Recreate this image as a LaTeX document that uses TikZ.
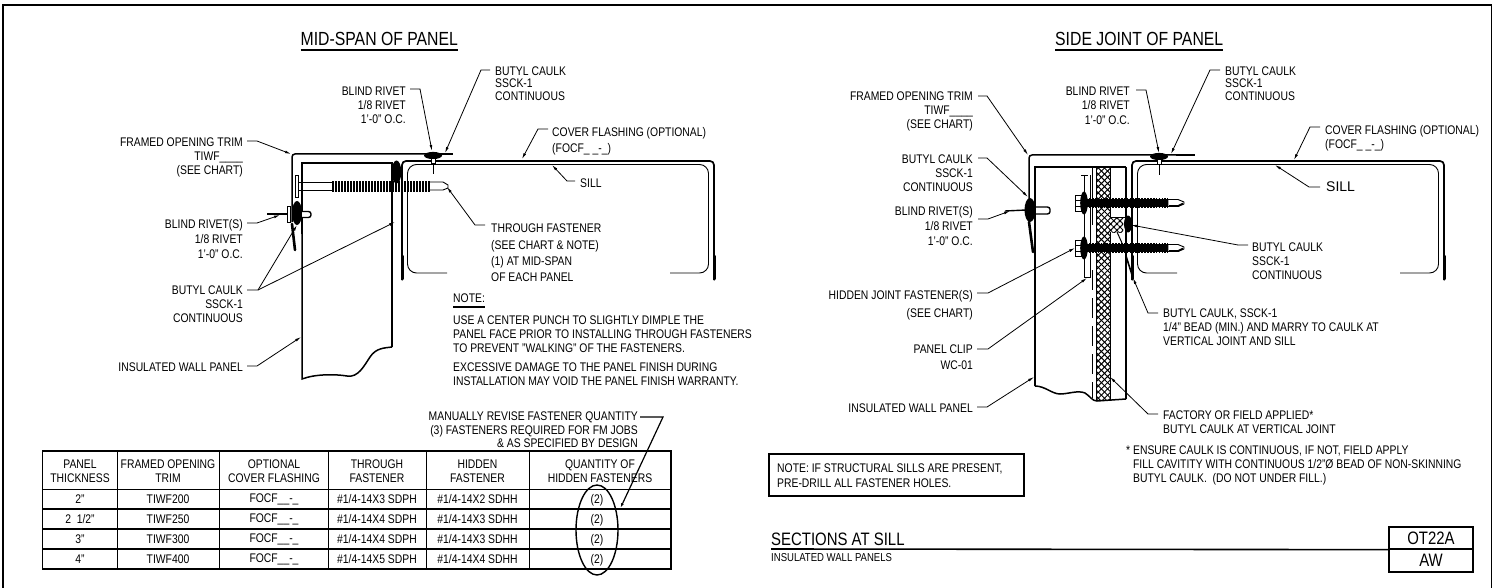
\documentclass[tikz,border=0pt]{standalone}
\usepackage{fontspec}
\setmainfont[FakeStretch=0.83]{Liberation Sans}
\newfontfamily\plainsans{Liberation Sans}
\usetikzlibrary{arrows.meta,patterns.meta,shapes.geometric}
\tikzset{
  font={\fontsize{12.5pt}{14pt}\selectfont},
  lblr/.style={inner sep=0pt,anchor=north east,align=right},
  lbll/.style={inner sep=0pt,anchor=north west,align=left},
  lblc/.style={inner sep=0pt,anchor=center,align=center},
  title/.style={inner sep=0pt,anchor=west,font={\fontsize{19pt}{20pt}\selectfont}},
  leader/.style={line width=0.8pt,-{Latex[length=6pt,width=2.8pt]}},
  heavy/.style={line width=1.5pt},
  cellrule/.style={line width=1.5pt},
  foamA/.style={pattern={Lines[angle=45,distance=4.4pt,line width=1pt]}},
  foamB/.style={pattern={Lines[angle=-45,distance=4.4pt,line width=1pt]}},
  sillform/.pic={
    \draw [line width=1.7pt,rounded corners=4pt] (0,280) -- (0,161) -- (312,161) -- (312,280);
    \draw [line width=0.9pt,rounded corners=9pt] (45,273) -- (5.5,273) -- (5.5,164.5) -- (306.5,164.5) -- (306.5,273) -- (268,273);
    \draw [line width=3pt,line cap=round] (0,256) -- (0,279);
    \draw [line width=3pt,line cap=round] (312,256) -- (312,279);
  },
  boltform/.pic={
    \draw [fill=white,line width=0.9pt] (0,-8) rectangle (6,8);
    \draw (0,-3) -- (6,-3) (0,3) -- (6,3);
    \fill [black] (9,0) ellipse (3.8 and 11.5);
    \fill [black] (10,-3.8) rectangle (93,3.8);
    \draw [line width=10.5pt,dash pattern=on 1.7pt off 1.2pt] (14,0) -- (93,0);
    \draw [fill=white,line width=0.9pt] (93,-3.5) -- (103,-3.5) -- (109,-1) -- (109,1) -- (103,3.5) -- (93,3.5) -- cycle;
    \draw [line width=1.6pt] (94,3) -- (103,3) -- (108,0.5);
  },
  rivetform/.pic={
    \fill [black] (0,0) ellipse (9 and 3.6);
    \draw [fill=white,line width=0.9pt] (-2,3) rectangle (2,8);
    \draw (0,8) -- (0,19);
  }
}
\begin{document}
\begin{tikzpicture}[x=1pt,y=-1pt]
\useasboundingbox (0,0) rectangle (1501,588);
% sheet edge
\draw [line width=1.4pt] (3,588) -- (3,5) -- (1491.5,5) -- (1491.5,588);
% titles
\node (titleMid) [title] at (300.5,39) {MID-SPAN OF PANEL};
\draw [line width=1.3pt] (titleMid.south west |- 0,50) -- (titleMid.south east |- 0,50);
\node (titleSide) [title] at (1055,39) {SIDE JOINT OF PANEL};
\draw [line width=1.3pt] (titleSide.south west |- 0,50) -- (titleSide.south east |- 0,50);

% mid-span section
\pic at (402,0) {sillform};
\draw [heavy,rounded corners=3pt] (292,222) -- (292,154) -- (443,154);
\draw [line width=2.4pt] (440,154) -- (453,154);
\draw [line width=2.6pt,line cap=round] (292,224) -- (295,250);
\draw [heavy] (302,234) -- (302,163) -- (392,163) -- (392,347);
\draw [heavy] (302,234) -- (302,379) .. controls (315,374) and (335,374) .. (347,376) .. controls (358,378) and (364,366) .. (370,357) .. controls (376,348) and (384,348) .. (392,347);
\pic at (433,155.5) {rivetform};
\fill [black] (396.5,172) ellipse (4.8 and 11.5);
\draw [line width=0.9pt,fill=white] (295,175) rectangle (298,197);
\draw [line width=0.9pt] (298,182) -- (332,182) (298,190) -- (332,190);
\draw [line width=11pt,dash pattern=on 1.9pt off 1.1pt] (332,186.5) -- (430,186.5);
\draw [line width=0.9pt] (430,182) -- (443,182) -- (448,185) -- (448,188) -- (443,190) -- (430,190);
\draw [line width=1.4pt] (267,214) -- (288,214);
\draw [line width=0.9pt,fill=white] (287,206) rectangle (290,222);
\fill [black] (297,213) ellipse (5 and 12);
\draw [line width=1.4pt,fill=white,rounded corners=2.5pt] (302,211.5) -- (311,211.5) -- (311,217.5) -- (302,217.5);

% mid-span labels
\node (midTrim) [lblr] at (243,138) {FRAMED OPENING TRIM\\TIWF\_\_\_\_\\(SEE CHART)};
\node (midRivet) [lblr] at (406,87) {BLIND RIVET\\1/8 RIVET\\1'-0" O.C.};
\node (midCaulkTop) [lbll] at (495,66.5) {BUTYL CAULK\\[-1.5pt]SSCK-1\\[-1.5pt]CONTINUOUS};
\node (midFlash) [lbll] at (552,127) {COVER FLASHING (OPTIONAL)\\[2pt](FOCF\_ \_-\_)};
\node (midSill) [lbll] at (580,179) {SILL};
\node (midRivets) [lblr] at (243,219) {BLIND RIVET(S)\\[1pt]1/8 RIVET\\[1pt]1'-0" O.C.};
\node (midCaulk) [lblr] at (243,286) {BUTYL CAULK\\[-0.5pt]SSCK-1\\CONTINUOUS};
\node (midPanel) [lblr] at (243,363) {INSULATED WALL PANEL};
\node (midThrough) [lbll] at (491,224) {THROUGH FASTENER\\[2.3pt](SEE CHART \& NOTE)\\[2.3pt](1) AT MID-SPAN\\[2.3pt]OF EACH PANEL};
\node (noteHead) [lbll] at (453,294) {NOTE:};
\draw [line width=1.1pt] (noteHead.west |- 0,307) -- (noteHead.east |- 0,307);
\node (noteBody) [lbll] at (453,316) {USE A CENTER PUNCH TO SLIGHTLY DIMPLE THE\\PANEL FACE PRIOR TO INSTALLING THROUGH FASTENERS\\TO PREVENT "WALKING" OF THE FASTENERS.};
\node (noteDamage) [lbll] at (453,363) {EXCESSIVE DAMAGE TO THE PANEL FINISH DURING\\INSTALLATION MAY VOID THE PANEL FINISH WARRANTY.};

% mid-span leaders
\coordinate (tipTrim) at (291,154);
\coordinate (tipRivet) at (432,151);
\coordinate (tipCaulkTop) at (445,153);
\coordinate (tipFlash) at (522,159);
\coordinate (tipSill) at (552,165);
\coordinate (tipRivets) at (280,215);
\coordinate (tipCaulkA) at (297,225);
\coordinate (tipCaulkB) at (395,222);
\coordinate (tipPanel) at (301,337);
\coordinate (tipThrough) at (447,187);
\draw [leader] ([shift={(4,3)}]midTrim.north east) -- ++(10,0) -- (tipTrim);
\draw [leader] ([shift={(4,2)}]midRivet.north east) -- ++(10,0) -- (tipRivet);
\draw [leader] ([shift={(-5,3.5)}]midCaulkTop.north west) -- ++(-9,0) -- (tipCaulkTop);
\draw [leader] ([shift={(-4,2)}]midFlash.north west) -- ++(-10,0) -- (tipFlash);
\draw [leader] ([shift={(-5,2)}]midSill.north west) -- ++(-8,0) -- (tipSill);
\draw [leader] ([shift={(4,4)}]midRivets.north east) -- ++(10,0) -- (tipRivets);
\draw [leader] ([shift={(4,4)}]midCaulk.north east) -- ++(11,0) -- (tipCaulkA);
\draw [leader] ([shift={(15,4)}]midCaulk.north east) -- (tipCaulkB);
\draw [leader] ([shift={(4,3)}]midPanel.north east) -- ++(10,0) -- (tipPanel);
\draw [leader] ([shift={(-6,1)}]midThrough.north west) -- ++(-10,0) -- (tipThrough);

% side joint section
\pic at (1132,0) {sillform};
\draw [heavy,rounded corners=3pt] (1029,220) -- (1029,155) -- (1178,155);
\draw [line width=2.4pt] (1176,155) -- (1195,155);
\draw [line width=2.6pt,line cap=round] (1029,222) -- (1033,252);
\draw [heavy] (1035,386) -- (1035,167) -- (1126,167);
\draw [line width=2pt] (1126,167) -- (1126,399);
\draw [heavy] (1035,386) .. controls (1045,386) and (1052,394) .. (1060,394) .. controls (1068,394) and (1078,390) .. (1085,393) .. controls (1090,396) and (1092,401) .. (1097,401) -- (1126,399);
\fill [foamA] (1096,167) rectangle (1110,400);
\fill [foamB] (1096,167) rectangle (1110,400);
\draw [line width=1pt] (1096,167) -- (1096,400) (1110,167) -- (1110,400);
\fill [white] (1109.5,218) rectangle (1125,232);
\fill [foamA] (1109.5,218) rectangle (1123,232);
\fill [foamB] (1109.5,218) rectangle (1123,232);
\draw [line width=0.9pt] (1110,217) -- (1125,217);
\draw [line width=1pt] (1117,232) -- (1122,243);
\fill [black] (1128,224) ellipse (4 and 8.5);
\draw [line width=1pt] (1092,167) -- (1092,225);
\draw [line width=1pt,dash pattern=on 20pt off 8pt] (1092,270) -- (1092,398);
\pic at (1159,156.5) {rivetform};
\draw [line width=0.9pt] (1081,175) -- (1088,175);
\draw [line width=0.9pt] (1084,175) -- (1084,277) -- (1090,277) -- (1090,175);
\pic at (1075,203) {boltform};
\pic at (1075,248) {boltform};
\draw [line width=1.6pt,line cap=round] (1126,256) -- (1133,278);
\draw [line width=1.4pt] (1005,211) -- (1026,210);
\fill [black] (1030,210) ellipse (5.5 and 12);
\draw [line width=1.4pt,fill=white,rounded corners=2.5pt] (1036,207) -- (1050,207) -- (1050,214) -- (1036,214);

% side joint labels
\node (sideTrim) [lblr] at (973,92) {FRAMED OPENING TRIM\\TIWF\_\_\_\_\\(SEE CHART)};
\node (sideRivet) [lblr] at (1130,87) {BLIND RIVET\\1/8 RIVET\\[1pt]1'-0" O.C.};
\node (sideCaulkTop) [lbll] at (1225,66.5) {BUTYL CAULK\\[-1.5pt]SSCK-1\\[-1.5pt]CONTINUOUS};
\node (sideFlash) [lbll] at (1325,125) {COVER FLASHING (OPTIONAL)\\(FOCF\_ \_-\_)};
\node (sideSill) [lbll,font={\plainsans\fontsize{14pt}{14pt}\selectfont}] at (1326,182) {SILL};
\node (sideCaulkHi) [lblr] at (973,155) {BUTYL CAULK\\SSCK-1\\CONTINUOUS};
\node (sideRivets) [lblr] at (973,206) {BLIND RIVET(S)\\[1pt]1/8 RIVET\\[1pt]1'-0" O.C.};
\node (sideCaulkIn) [lbll] at (1252,243) {BUTYL CAULK\\SSCK-1\\CONTINUOUS};
\node (sideHidden) [lblr] at (973,290) {HIDDEN JOINT FASTENER(S)\\[4pt](SEE CHART)};
\node (sideBead) [lbll] at (1163,309) {BUTYL CAULK, SSCK-1\\1/4" BEAD (MIN.) AND MARRY TO CAULK AT\\VERTICAL JOINT AND SILL};
\node (sideClip) [lblr] at (973,345) {PANEL CLIP\\[2pt]WC-01};
\node (sidePanel) [lblr] at (973,404) {INSULATED WALL PANEL};
\node (sideFactory) [lbll] at (1163,411) {FACTORY OR FIELD APPLIED*\\BUTYL CAULK AT VERTICAL JOINT};
\node (sideEnsure) [lbll] at (1126,446) {* ENSURE CAULK IS CONTINUOUS, IF NOT, FIELD APPLY\\\hphantom{* }FILL CAVITITY WITH CONTINUOUS 1/2"Ø BEAD OF NON-SKINNING\\\hphantom{* }BUTYL CAULK.\ \ (DO NOT UNDER FILL.)};

% side joint leaders
\coordinate (tipSTrim) at (1028,155);
\coordinate (tipSRivet) at (1159,153);
\coordinate (tipSCaulkTop) at (1171,154);
\coordinate (tipSFlash) at (1294,160);
\coordinate (tipSSill) at (1275,165);
\coordinate (tipSCaulkHi) at (1028,197);
\coordinate (tipSRivets) at (1010,211);
\coordinate (tipSCaulkIn) at (1131,225);
\coordinate (tipSHidden) at (1075,248);
\coordinate (tipSBead) at (1133,278);
\coordinate (tipSClip) at (1087,278);
\coordinate (tipSPanel) at (1034,377);
\coordinate (tipSFactory) at (1110,377);
\draw [leader] ([shift={(5,4)}]sideTrim.north east) -- ++(9,0) -- (tipSTrim);
\draw [leader] ([shift={(6,3)}]sideRivet.north east) -- ++(10,0) -- (tipSRivet);
\draw [leader] ([shift={(-5,3.5)}]sideCaulkTop.north west) -- ++(-10,0) -- (tipSCaulkTop);
\draw [leader] ([shift={(-5,2)}]sideFlash.north west) -- ++(-10,0) -- (tipSFlash);
\draw [leader] ([shift={(-6,5)}]sideSill.north west) -- ++(-11,0) -- (tipSSill);
\draw [leader] ([shift={(5,3)}]sideCaulkHi.north east) -- ++(9,0) -- (tipSCaulkHi);
\draw [leader] ([shift={(5,13)}]sideRivets.north east) -- ++(10,0) -- (tipSRivets);
\draw [leader] ([shift={(-4,2)}]sideCaulkIn.north west) -- ++(-10,0) -- (tipSCaulkIn);
\draw [leader] ([shift={(4,3)}]sideHidden.north east) -- ++(11,0) -- (tipSHidden);
\draw [leader] ([shift={(-5,4)}]sideBead.north west) -- ++(-10,0) -- (tipSBead);
\draw [leader] ([shift={(4,4)}]sideClip.north east) -- ++(11,0) -- (tipSClip);
\draw [leader] ([shift={(4,3)}]sidePanel.north east) -- ++(10,0) -- (tipSPanel);
\draw [leader] ([shift={(-5,3)}]sideFactory.north west) -- ++(-10,0) -- (tipSFactory);

% note box and title block
\node (noteBox) [draw,line width=1.5pt,minimum width=255pt,minimum height=42pt,inner sep=0pt,anchor=north west] at (768,453) {};
\node (noteText) [lbll] at (777,464) {NOTE: IF STRUCTURAL SILLS ARE PRESENT,\\[1pt]PRE-DRILL ALL FASTENER HOLES.};
\node (blockName) [inner sep=0pt,anchor=west,font={\fontsize{18pt}{18pt}\selectfont}] at (771,539) {SECTIONS AT SILL};
\node (blockSub) [inner sep=0pt,anchor=west,font={\fontsize{11.5pt}{12pt}\selectfont}] at (771,558) {INSULATED WALL PANELS};
\node (blockCode) [draw,line width=1.3pt,minimum width=84pt,minimum height=22pt,inner sep=0pt,font={\fontsize{18pt}{18pt}\selectfont}] at (1431,538) {OT22A};
\node (blockRev) [draw,line width=1.3pt,minimum width=84pt,minimum height=23pt,inner sep=0pt,font={\fontsize{18pt}{18pt}\selectfont}] at (1431,560.5) {AW};
\draw [line width=1.6pt] (771,549) -- (blockCode.south west);

% fastener chart
\draw [cellrule] (42.5,451) rectangle (671,569);
\draw [cellrule] (42.5,489.5) -- (537,489.5);
\draw [line width=0.9pt] (537,489.5) -- (671,489.5);
\draw [cellrule] (42.5,509) -- (671,509);
\draw [cellrule] (42.5,529) -- (671,529);
\draw [cellrule] (42.5,549) -- (671,549);
\foreach \xc in {117,219.5,328,426,529} {
  \draw [line width=0.9pt] (\xc,451) -- (\xc,569);
}
\node (h1) [lblc] at (80,471) {PANEL\\THICKNESS};
\node (h2) [lblc] at (168,471) {FRAMED OPENING\\TRIM};
\node (h3) [lblc] at (274,471) {OPTIONAL\\COVER FLASHING};
\node (h4) [lblc] at (377,471) {THROUGH\\FASTENER};
\node (h5) [lblc] at (477.5,471) {HIDDEN\\FASTENER};
\node (h6) [lblc] at (600,471) {QUANTITY OF\\HIDDEN FASTENERS};
\node (a1) [lblc] at (80,499.5) {2"};
\node (a2) [lblc] at (168,499.5) {TIWF200};
\node (a3) [lblc] at (274,499.5) {FOCF\_\_-\_};
\node (a4) [lblc] at (377,499.5) {\#1/4-14X3 SDPH};
\node (a5) [lblc] at (477.5,499.5) {\#1/4-14X2 SDHH};
\node (a6) [lblc] at (597,500.5) {(2)};
\node (b1) [lblc] at (80,519.5) {2\ \ 1/2"};
\node (b2) [lblc] at (168,519.5) {TIWF250};
\node (b3) [lblc] at (274,519.5) {FOCF\_\_-\_};
\node (b4) [lblc] at (377,519.5) {\#1/4-14X4 SDPH};
\node (b5) [lblc] at (477.5,519.5) {\#1/4-14X3 SDHH};
\node (b6) [lblc] at (597,520.5) {(2)};
\node (c1) [lblc] at (80,539.5) {3"};
\node (c2) [lblc] at (168,539.5) {TIWF300};
\node (c3) [lblc] at (274,539.5) {FOCF\_\_-\_};
\node (c4) [lblc] at (377,539.5) {\#1/4-14X4 SDPH};
\node (c5) [lblc] at (477.5,539.5) {\#1/4-14X3 SDHH};
\node (c6) [lblc] at (597,540.5) {(2)};
\node (d1) [lblc] at (80,559.5) {4"};
\node (d2) [lblc] at (168,559.5) {TIWF400};
\node (d3) [lblc] at (274,559.5) {FOCF\_\_-\_};
\node (d4) [lblc] at (377,559.5) {\#1/4-14X5 SDPH};
\node (d5) [lblc] at (477.5,559.5) {\#1/4-14X4 SDHH};
\node (d6) [lblc] at (597,560.5) {(2)};
\node (qtyRing) [draw,line width=1.4pt,ellipse,minimum width=42pt,minimum height=90pt,inner sep=0pt] at (597,530) {};
\node (chartNote) [lblr] at (638,412) {MANUALLY REVISE FASTENER QUANTITY\\[-0.5pt](3) FASTENERS REQUIRED FOR FM JOBS\\[-0.5pt]\& AS SPECIFIED BY DESIGN};
\coordinate (tipRing) at (620,509);
\draw [leader,line width=1.2pt] ([shift={(2,5)}]chartNote.north east) -- ++(23,0) -- (tipRing);
\end{tikzpicture}
\end{document}
